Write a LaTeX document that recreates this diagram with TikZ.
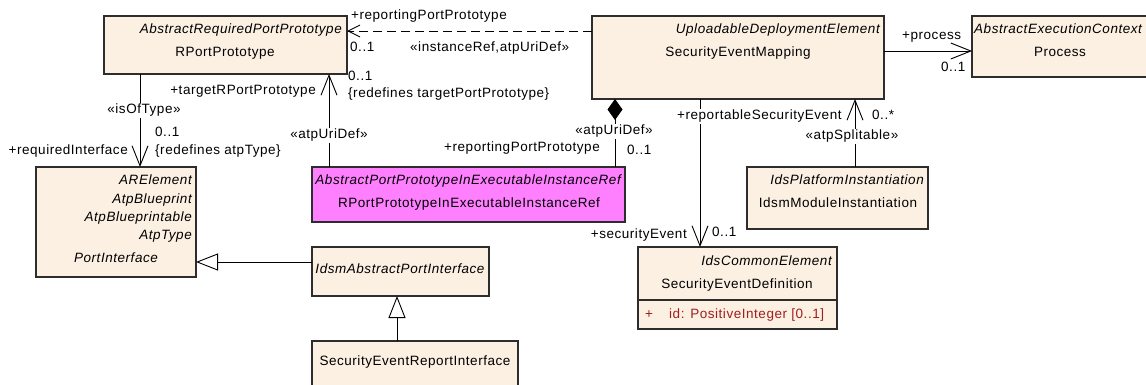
\documentclass[tikz,border=0pt]{standalone}
\usepackage{fontspec}
\setmainfont[LetterSpace=4]{Liberation Sans}
\usetikzlibrary{arrows.meta}
\definecolor{boxfill}{RGB}{251,240,226}
\definecolor{boxline}{RGB}{45,45,45}
\definecolor{magfill}{RGB}{255,128,255}
\definecolor{attrred}{RGB}{160,30,30}
\newcommand\myfs{\fontsize{13.5}{16}\selectfont}
\tikzset{
  umlbox/.style={draw=boxline, line width=1.2pt, fill=boxfill, inner sep=0pt, outer sep=0pt, anchor=north west},
  magbox/.style={umlbox, fill=magfill},
  txt/.style={font=\myfs, inner sep=0pt, anchor=base},
  itxt/.style={font=\myfs\itshape, inner sep=0pt, anchor=base east},
  lbl/.style={font=\myfs, inner sep=0pt},
  lblw/.style={font=\myfs, inner sep=1pt, fill=white},
  conn/.style={draw=black, line width=0.9pt},
  openarrow/.style={conn, -{Straight Barb[length=20pt,width=16pt,line width=0.9pt]}},
  dashedarrow/.style={conn, dash pattern=on 9pt off 5pt, -{Straight Barb[length=12pt,width=12pt,line width=0.9pt]}},
  genarrow/.style={conn, -{Triangle[open,length=22pt,width=17pt,fill=white,line width=0.9pt]}},
  compline/.style={conn, {Diamond[length=21pt,width=15pt,fill=black]}-},
}
\begin{document}
\begin{tikzpicture}[x=1pt,y=-1pt]
\useasboundingbox (0,0) rectangle (1146,385);

% boxes
\node[umlbox, minimum width=243pt, minimum height=58pt] (rp) at (104,16) {};
\node[umlbox, minimum width=292pt, minimum height=83pt] (sem) at (592,16) {};
\node[umlbox, minimum width=180pt, minimum height=61pt] (proc) at (972,16) {};
\node[umlbox, minimum width=160pt, minimum height=110pt] (ar) at (36,167) {};
\node[magbox, minimum width=313pt, minimum height=55pt] (mag) at (312,167) {};
\node[umlbox, minimum width=177pt, minimum height=49pt] (iapi) at (312,247) {};
\node[umlbox, minimum width=206pt, minimum height=54pt] (seri) at (312,341) {};
\node[umlbox, minimum width=181pt, minimum height=62pt] (imi) at (747,167) {};
\node[umlbox, minimum width=199pt, minimum height=82pt] (sed) at (638,247) {};
\draw[draw=boxline, line width=1.2pt] ([yshift=-53pt]sed.north west) -- ([yshift=-53pt]sed.north east);

% box texts
\node[itxt] (rp-s) at (342,34) {AbstractRequiredPortPrototype};
\node[txt] (rp-n) at (225,57) {RPortPrototype};
\node[itxt] (sem-s) at (880,34) {UploadableDeploymentElement};
\node[txt] (sem-n) at (738,57) {SecurityEventMapping};
\node[itxt, anchor=base west] (proc-s) at (974,34) {AbstractExecutionContext};
\node[txt] (proc-n) at (1060,57) {Process};
\node[itxt] (ar-s1) at (192,184) {ARElement};
\node[itxt] (ar-s2) at (192,203) {AtpBlueprint};
\node[itxt] (ar-s3) at (192,221) {AtpBlueprintable};
\node[itxt] (ar-s4) at (192,239) {AtpType};
\node[itxt, anchor=base] (ar-n) at (116,262) {PortInterface};
\node[itxt] (mag-s) at (621,184) {AbstractPortPrototypeInExecutableInstanceRef};
\node[txt] (mag-n) at (469,207) {RPortPrototypeInExecutableInstanceRef};
\node[itxt, anchor=base] (iapi-n) at (400,273) {IdsmAbstractPortInterface};
\node[txt] (seri-n) at (415,365) {SecurityEventReportInterface};
\node[itxt] (imi-s) at (924,185) {IdsPlatformInstantiation};
\node[txt] (imi-n) at (838,207) {IdsmModuleInstantiation};
\node[itxt] (sed-s) at (832,265) {IdsCommonElement};
\node[txt] (sed-n) at (737,288) {SecurityEventDefinition};
\node[txt, text=attrred] (sed-p) at (649,318) {+};
\node[txt, anchor=base west, text=attrred] (sed-a) at (669,318) {id: PositiveInteger [0..1]};

% connectors
\draw[dashedarrow] ([yshift=-15pt]sem.north west) -- ([yshift=-15pt]rp.north east);
\draw[openarrow] ([xshift=36pt]rp.south west) -- ([xshift=104pt]ar.north west);
\draw[openarrow] ([xshift=17pt]mag.north west) -- ([xshift=225pt]rp.south west);
\draw[compline] ([xshift=23pt]sem.south west) -- ([xshift=303pt]mag.north west);
\draw[openarrow] ([xshift=108pt]sem.south west) -- ([xshift=62pt]sed.north west);
\draw[openarrow] ([xshift=108pt]imi.north west) -- ([xshift=263pt]sem.south west);
\draw[openarrow] ([yshift=-35pt]sem.north east) -- ([yshift=-35pt]proc.north west);
\draw[genarrow] ([yshift=-15pt]iapi.north west) -- ([yshift=-95pt]ar.north east);
\draw[genarrow] ([xshift=85pt]seri.north west) -- ([xshift=85pt]iapi.south west);

% connector labels
\node[lbl, anchor=base west] (l1) at (351,20) {+reportingPortPrototype};
\node[lbl, anchor=base west] (l2) at (350,52) {0..1};
\node[lbl, anchor=base west] (l3) at (410,52) {«instanceRef,atpUriDef»};
\node[lblw, anchor=base] (l4) at (144,114) {«isOfType»};
\node[lbl, anchor=base west] (l5) at (155,137) {0..1};
\node[lbl, anchor=base west] (l6) at (155,154) {\{redefines atpType\}};
\node[lbl, anchor=base east] (l7) at (128,154) {+requiredInterface};
\node[lbl, anchor=base east] (l8) at (316,95) {+targetRPortPrototype};
\node[lbl, anchor=base west] (l9) at (348,81) {0..1};
\node[lbl, anchor=base west] (l10) at (348,98) {\{redefines targetPortPrototype\}};
\node[lblw, anchor=base] (l11) at (329,139) {«atpUriDef»};
\node[lblw, anchor=base] (l12) at (614,135) {«atpUriDef»};
\node[lbl, anchor=base east] (l13) at (600,152) {+reportingPortPrototype};
\node[lbl, anchor=base west] (l14) at (627,155) {0..1};
\node[lblw, anchor=base west] (l15) at (676,120) {+reportableSecurityEvent};
\node[lbl, anchor=base west] (l16) at (872,120) {0..*};
\node[lblw, anchor=base] (l17) at (852,140) {«atpSplitable»};
\node[lbl, anchor=base east] (l18) at (687,238) {+securityEvent};
\node[lbl, anchor=base west] (l19) at (712,236) {0..1};
\node[lbl, anchor=base west] (l20) at (902,40) {+process};
\node[lbl, anchor=base west] (l21) at (941,72) {0..1};
\end{tikzpicture}
\end{document}
